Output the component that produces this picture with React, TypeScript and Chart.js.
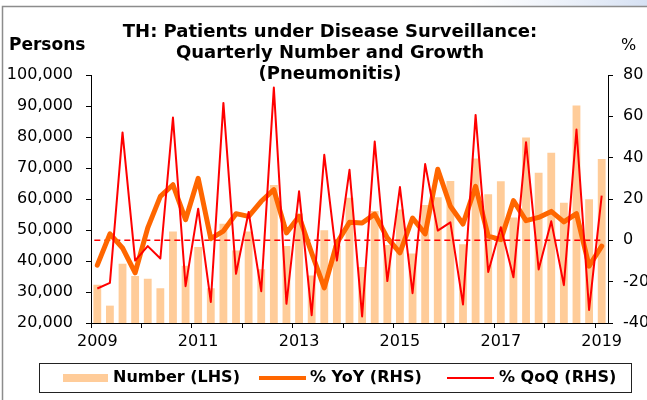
import React, { useEffect, useRef } from 'react';
import { Chart, registerables } from 'chart.js';

Chart.register(...registerables);

const categories = [
  '2009Q1', '2009Q2', '2009Q3', '2009Q4',
  '2010Q1', '2010Q2', '2010Q3', '2010Q4',
  '2011Q1', '2011Q2', '2011Q3', '2011Q4',
  '2012Q1', '2012Q2', '2012Q3', '2012Q4',
  '2013Q1', '2013Q2', '2013Q3', '2013Q4',
  '2014Q1', '2014Q2', '2014Q3', '2014Q4',
  '2015Q1', '2015Q2', '2015Q3', '2015Q4',
  '2016Q1', '2016Q2', '2016Q3', '2016Q4',
  '2017Q1', '2017Q2', '2017Q3', '2017Q4',
  '2018Q1', '2018Q2', '2018Q3', '2018Q4',
  '2019Q1',
];

const numberLHS = [
  32300, 25600, 39100, 35200,
  34300, 31200, 49500, 38500,
  44500, 31200, 52000, 43400,
  49500, 37300, 64500, 44800,
  55300, 35300, 49900, 45000,
  60400, 38100, 56100, 45200,
  56600, 42400, 58100, 60600,
  65800, 45400, 73100, 61500,
  65700, 54000, 79800, 68500,
  74900, 58800, 90200, 59900,
  72900,
];

const yoyRHS = [
  -12.0, 3.1, -3.7, -15.7,
  6.0, 21.3, 26.9, 10.0,
  30.0, 0.8, 4.5, 12.9,
  11.6, 18.9, 24.5, 3.6,
  11.6, -6.1, -23.0, -1.3,
  8.7, 8.4, 12.7, 1.2,
  -6.1, 10.8, 3.1, 34.4,
  16.5, 7.9, 26.1, 2.0,
  0.3, 19.2, 9.5, 11.1,
  14.0, 8.9, 12.9, -12.5,
  -2.8,
];

const qoqRHS = [
  -23.3, -20.6, 52.2, -9.8,
  -2.8, -8.8, 59.4, -22.2,
  15.3, -29.8, 66.5, -16.2,
  13.7, -24.6, 73.9, -30.7,
  23.7, -36.2, 41.4, -9.8,
  34.1, -36.8, 47.8, -19.7,
  25.8, -25.6, 36.9, 4.7,
  8.7, -31.0, 60.7, -15.3,
  6.3, -17.9, 47.5, -14.1,
  9.2, -21.7, 53.6, -33.7,
  21.6,
];

const yearLabels = ['2009', '2011', '2013', '2015', '2017', '2019'];
const titleLines = [
  'TH: Patients under Disease Surveillance:',
  'Quarterly Number and Growth',
  '(Pneumonitis)',
];
const legendLabels = ['Number (LHS)', '% YoY (RHS)', '% QoQ (RHS)'];
const leftAxisTitle = 'Persons';
const rightAxisTitle = '%';

const BAR_COLOR = '#FFCC99';
const YOY_COLOR = '#FF6600';
const QOQ_COLOR = '#FF0000';
const FONT = '"DejaVu Sans", "Liberation Sans", Arial, sans-serif';

const decorPlugin = {
  id: 'decor',
  beforeDraw(chart: any) {
    const { ctx, width, height } = chart;
    ctx.save();
    ctx.fillStyle = '#ffffff';
    ctx.fillRect(0, 0, width, height);
    const g = ctx.createLinearGradient(470, 0, width, 0);
    g.addColorStop(0, 'rgba(225,233,246,0)');
    g.addColorStop(1, 'rgba(214,225,243,1)');
    ctx.fillStyle = g;
    ctx.fillRect(470, 0, width - 470, 6);
    ctx.strokeStyle = '#8c8c8c';
    ctx.lineWidth = 1.5;
    ctx.beginPath();
    ctx.moveTo(2.5, height);
    ctx.lineTo(2.5, 6.5);
    ctx.lineTo(width, 6.5);
    ctx.stroke();
    ctx.restore();
  },
  afterDatasetDraw(chart: any, args: any) {
    if (args.index !== 0) return;
    const { ctx } = chart;
    const y = chart.scales.y1.getPixelForValue(0);
    const x0 = chart.scales.x.getPixelForValue(0) - 3;
    const x1 = chart.scales.x.getPixelForValue(categories.length - 1) + 2;
    ctx.save();
    ctx.strokeStyle = QOQ_COLOR;
    ctx.lineWidth = 1.5;
    ctx.setLineDash([6, 4]);
    ctx.beginPath();
    ctx.moveTo(x0, y);
    ctx.lineTo(x1, y);
    ctx.stroke();
    ctx.restore();
  },
  afterDraw(chart: any) {
    const { ctx } = chart;
    ctx.save();
    ctx.fillStyle = '#000';
    ctx.textBaseline = 'middle';
    // title
    ctx.textAlign = 'center';
    ctx.font = `bold 18px ${FONT}`;
    titleLines.forEach((t, i) => ctx.fillText(t, 330, 32 + i * 21));
    // axis titles
    ctx.textAlign = 'left';
    ctx.font = `bold 17px ${FONT}`;
    ctx.fillText(leftAxisTitle, 9, 46);
    ctx.font = `16px ${FONT}`;
    ctx.fillText(rightAxisTitle, 621, 46);
    // legend box
    ctx.strokeStyle = '#222';
    ctx.lineWidth = 1;
    ctx.strokeRect(39.5, 363.5, 592, 29);
    const ly = 378;
    ctx.fillStyle = BAR_COLOR;
    ctx.fillRect(63, 374, 45, 8);
    ctx.lineCap = 'butt';
    ctx.strokeStyle = YOY_COLOR;
    ctx.lineWidth = 4;
    ctx.beginPath();
    ctx.moveTo(259, ly);
    ctx.lineTo(306, ly);
    ctx.stroke();
    ctx.strokeStyle = QOQ_COLOR;
    ctx.lineWidth = 2;
    ctx.beginPath();
    ctx.moveTo(447, ly);
    ctx.lineTo(494, ly);
    ctx.stroke();
    ctx.fillStyle = '#000';
    ctx.font = `bold 16px ${FONT}`;
    ctx.fillText(legendLabels[0], 113, ly);
    ctx.fillText(legendLabels[1], 310, ly);
    ctx.fillText(legendLabels[2], 499, ly);
    ctx.restore();
  },
};

export default function App() {
  const ref = useRef<HTMLCanvasElement | null>(null);

  useEffect(() => {
    if (!ref.current) return;
    const chart = new Chart(ref.current, {
      type: 'bar',
      data: {
        labels: categories,
        datasets: [
          {
            type: 'bar',
            label: legendLabels[0],
            data: numberLHS,
            backgroundColor: BAR_COLOR,
            borderWidth: 0,
            barPercentage: 0.62,
            categoryPercentage: 1.0,
            yAxisID: 'y',
            order: 3,
          },
          {
            type: 'line',
            label: legendLabels[1],
            data: yoyRHS,
            borderColor: YOY_COLOR,
            backgroundColor: YOY_COLOR,
            borderWidth: 5,
            pointRadius: 0,
            tension: 0,
            borderJoinStyle: 'round',
            borderCapStyle: 'round',
            yAxisID: 'y1',
            order: 2,
          },
          {
            type: 'line',
            label: legendLabels[2],
            data: qoqRHS,
            borderColor: QOQ_COLOR,
            backgroundColor: QOQ_COLOR,
            borderWidth: 2,
            pointRadius: 0,
            tension: 0,
            borderJoinStyle: 'round',
            yAxisID: 'y1',
            order: 1,
          },
        ],
      },
      options: {
        responsive: false,
        maintainAspectRatio: false,
        devicePixelRatio: 1,
        animation: false,
        events: [],
        layout: { padding: { top: 75, left: 0, right: 0, bottom: 0 } },
        plugins: {
          legend: { display: false },
          title: { display: false },
          tooltip: { enabled: false },
        },
        scales: {
          x: {
            type: 'category',
            offset: true,
            grid: {
              offset: true,
              drawOnChartArea: false,
              drawTicks: true,
              tickLength: 5,
              tickColor: (c: any) => {
                const cat = categories[c.index];
                return cat && cat.endsWith('Q1') ? '#000' : 'rgba(0,0,0,0)';
              },
              tickWidth: 1,
            },
            border: { display: true, color: '#000', width: 1 },
            ticks: {
              autoSkip: false,
              maxRotation: 0,
              minRotation: 0,
              padding: 4,
              color: '#000',
              font: { family: FONT, size: 16 },
              callback: (_v: any, index: number) => {
                const cat = categories[index];
                const yr = cat.slice(0, 4);
                return cat.endsWith('Q1') && yearLabels.includes(yr) ? yr : '';
              },
            },
            afterFit: (s: any) => {
              s.height = 77;
            },
          },
          y: {
            type: 'linear',
            position: 'left',
            min: 20000,
            max: 100000,
            grid: {
              drawOnChartArea: false,
              tickLength: 5,
              tickColor: '#000',
            },
            border: { display: true, color: '#000', width: 1 },
            ticks: {
              stepSize: 10000,
              padding: 13,
              color: '#000',
              font: { family: FONT, size: 16 },
              callback: (v: any) => Number(v).toLocaleString('en-US'),
            },
            afterFit: (s: any) => {
              s.width = 91;
            },
          },
          y1: {
            type: 'linear',
            position: 'right',
            min: -40,
            max: 80,
            grid: {
              drawOnChartArea: false,
              tickLength: 5,
              tickColor: '#000',
            },
            border: { display: true, color: '#000', width: 1 },
            ticks: {
              stepSize: 20,
              padding: 10,
              color: '#000',
              font: { family: FONT, size: 16 },
            },
            afterFit: (s: any) => {
              s.width = 39;
            },
          },
        },
      },
      plugins: [decorPlugin],
    } as any);
    return () => chart.destroy();
  }, []);

  return (
    <div style={{ position: 'fixed', left: 0, top: 0, width: 647, height: 400, background: '#fff' }}>
      <canvas ref={ref} width={647} height={400} style={{ display: 'block', width: 647, height: 400 }} />
    </div>
  );
}
